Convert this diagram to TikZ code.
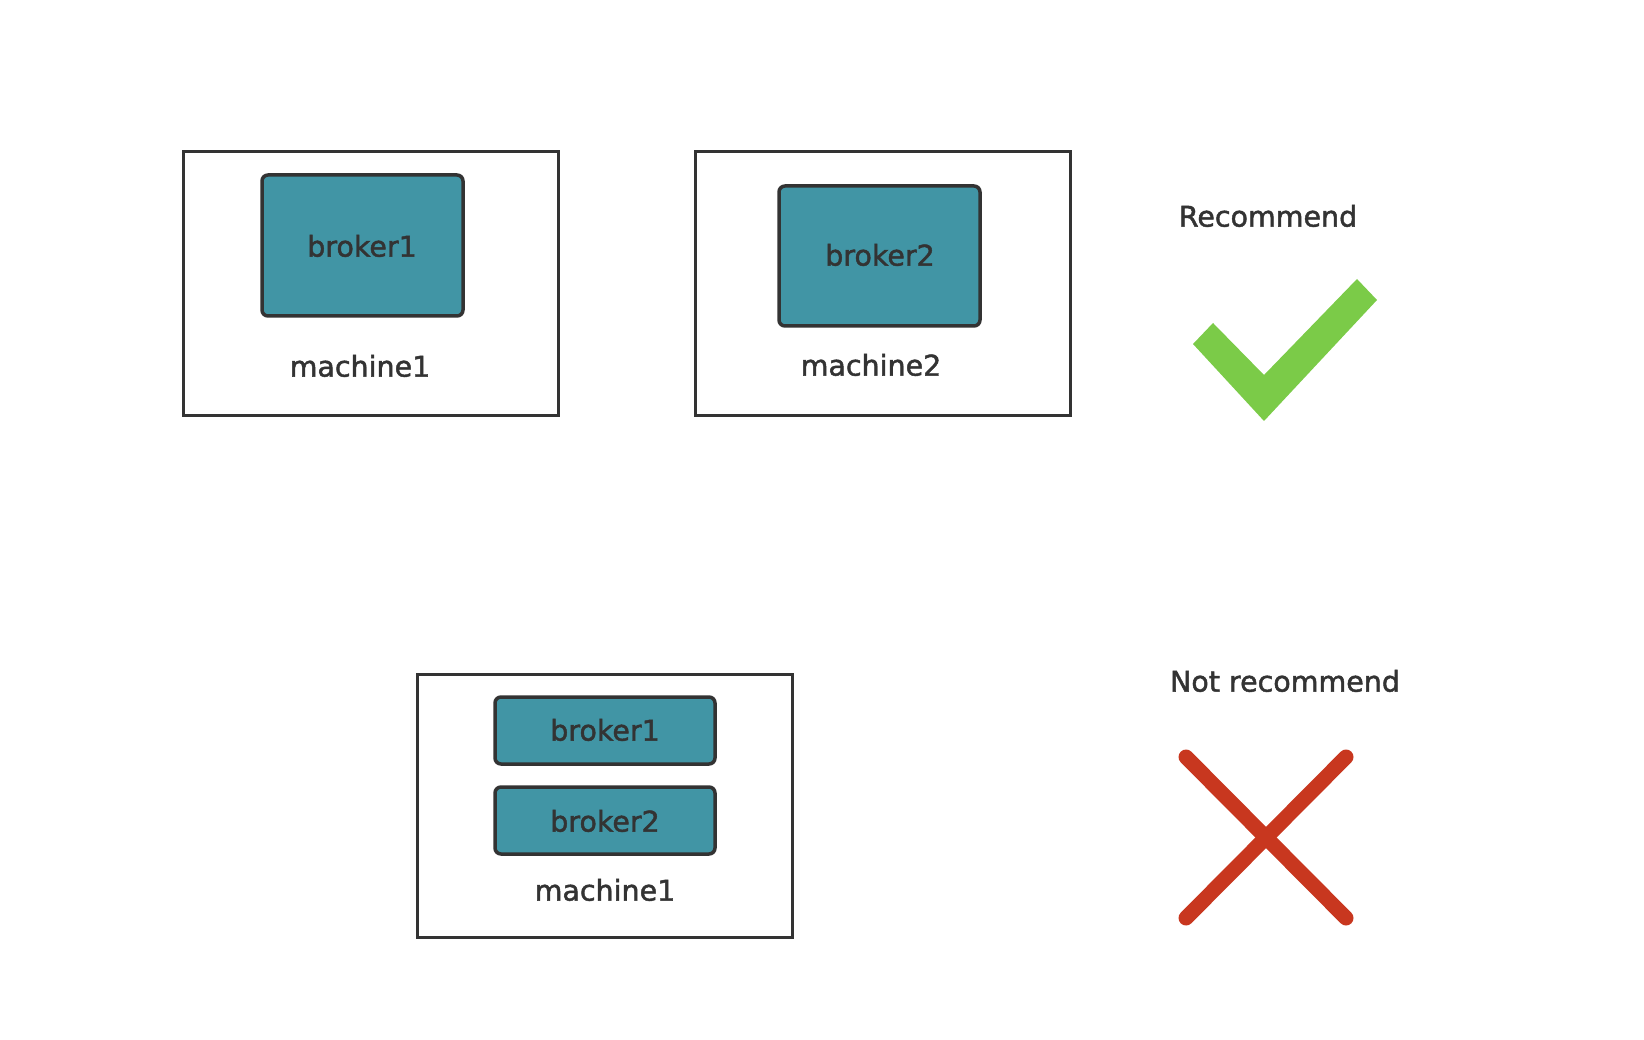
\documentclass[tikz,border=0pt]{standalone}
\usepackage{fontspec}
\setmainfont{DejaVu Sans}
\newfontfamily\labelfont{DejaVu Sans}[FakeBold=1.6]
\definecolor{teal}{HTML}{4195A5}
\definecolor{ink}{HTML}{333333}
\definecolor{okgreen}{HTML}{7BCB48}
\definecolor{nored}{HTML}{C8371F}
\begin{document}
\begin{tikzpicture}[x=1pt,y=-1pt,
  machine/.style={draw=ink,line width=3pt,fill=none},
  broker/.style={draw=ink,line width=3.5pt,fill=teal,rounded corners=6pt},
  lbl/.style={text=ink,font=\labelfont\fontsize{28.5}{33}\selectfont,inner sep=0pt,anchor=center}]
\useasboundingbox (0,0) rectangle (1644,1040);
% top left machine
\draw[machine] (183,152) rectangle (558,416);
\draw[broker] (262,175) rectangle (463,316);
\node[lbl] (b1a) at (362,246) {broker1};
\node[lbl] (m1a) at (360,366) {machine1};
% top right machine
\draw[machine] (695,152) rectangle (1070,416);
\draw[broker] (779,186) rectangle (980,326);
\node[lbl] (b2a) at (880,255) {broker2};
\node[lbl] (m2a) at (871,365) {machine2};
% bottom machine
\draw[machine] (417,674) rectangle (792,937);
\draw[broker] (495,697) rectangle (715,764);
\draw[broker] (495,787) rectangle (715,854);
\node[lbl] (b1b) at (605,730) {broker1};
\node[lbl] (b2b) at (605,821) {broker2};
\node[lbl] (m1b) at (605,890) {machine1};
% recommend
\node[lbl] (rec) at (1268,216) {Recommend};
\fill[okgreen] (1193,344) -- (1213,323) -- (1264,375) -- (1357,279) -- (1377,300) -- (1264,421) -- cycle;
% not recommend
\node[lbl] (nrec) at (1285,681) {Not recommend};
\draw[nored,line width=15pt,line cap=round] (1186,757) -- (1346,918);
\draw[nored,line width=15pt,line cap=round] (1346,757) -- (1186,918);
\end{tikzpicture}
\end{document}
